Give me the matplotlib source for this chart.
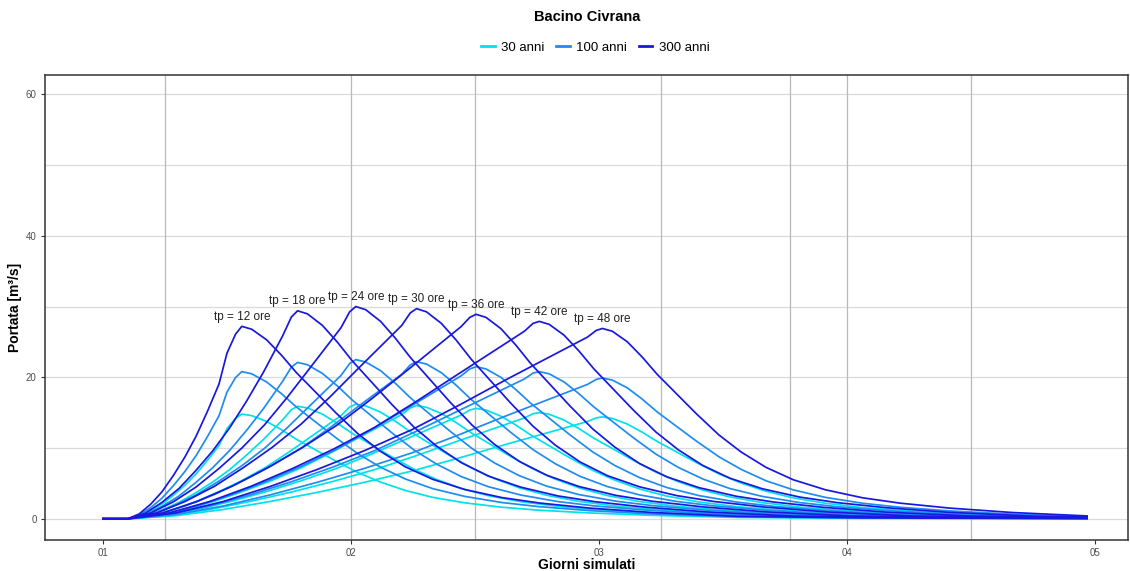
import matplotlib
matplotlib.use("Agg")
import matplotlib.pyplot as plt
from matplotlib.lines import Line2D

plt.rcParams['font.family'] = ['Liberation Sans', 'DejaVu Sans']

# ---- data (days simulated, discharge m3/s) ----
durations = [12, 18, 24, 30, 36, 42, 48]
return_periods = ['30 anni', '100 anni', '300 anni']
colors = ['#00E1EA', '#1E8CF0', '#1818E0']

t12 = [1.0, 1.1, 1.146, 1.192, 1.238, 1.284, 1.33, 1.376, 1.422, 1.468, 1.50, 1.535, 1.56,
       1.60, 1.66, 1.72, 1.78, 1.86, 1.94, 2.03, 2.12, 2.22, 2.33, 2.46, 2.61, 2.76,
       2.96, 3.21, 3.56, 4.06, 4.97]
q12_300 = [0, 0, 0.68, 2.04, 3.81, 6.12, 8.70, 11.70, 15.23, 19.04, 23.39, 26.11, 27.2,
           26.79, 25.30, 23.12, 20.67, 17.82, 14.96, 11.97, 9.52, 7.34, 5.58, 4.13, 2.99,
           2.23, 1.52, 0.90, 0.35, 0.14, 0.05]
q12_100 = [0, 0, 0.52, 1.56, 2.91, 4.68, 6.66, 8.94, 11.65, 14.56, 17.89, 19.97, 20.8,
           20.49, 19.34, 17.68, 15.81, 13.62, 11.44, 9.15, 7.28, 5.62, 4.26, 3.16, 2.29,
           1.71, 1.16, 0.69, 0.27, 0.10, 0.04]
q12_30 = [0, 0, 0.37, 1.11, 2.07, 3.33, 4.74, 6.36, 8.29, 10.36, 12.73, 14.21, 14.8,
          14.58, 13.76, 12.58, 11.25, 9.69, 8.14, 6.51, 5.18, 4.00, 3.03, 2.25, 1.63,
          1.21, 0.83, 0.49, 0.19, 0.07, 0.03]

t18 = [1.0, 1.1, 1.169, 1.237, 1.306, 1.374, 1.443, 1.511, 1.580, 1.648, 1.725, 1.76, 1.785,
       1.825, 1.885, 1.945, 2.005, 2.085, 2.165, 2.255, 2.345, 2.445, 2.555, 2.685, 2.835,
       2.985, 3.185, 3.435, 3.785, 4.285, 4.97]
q18_300 = [0, 0, 0.76, 2.29, 4.26, 6.79, 9.61, 12.85, 16.67, 20.76, 25.87, 28.52, 29.4,
           28.96, 27.34, 24.99, 22.34, 19.26, 16.17, 12.94, 10.29, 7.94, 6.03, 4.47, 3.23,
           2.41, 1.65, 0.97, 0.38, 0.15, 0.06]
q18_100 = [0, 0, 0.57, 1.72, 3.20, 5.11, 7.23, 9.66, 12.53, 15.60, 19.45, 21.44, 22.1,
           21.77, 20.55, 18.79, 16.80, 14.48, 12.16, 9.72, 7.74, 5.97, 4.53, 3.36, 2.43,
           1.81, 1.24, 0.73, 0.29, 0.11, 0.04]
q18_30 = [0, 0, 0.41, 1.24, 2.31, 3.67, 5.20, 6.95, 9.02, 11.23, 13.99, 15.42, 15.9,
          15.66, 14.79, 13.52, 12.08, 10.41, 8.75, 7.00, 5.57, 4.29, 3.26, 2.42, 1.75,
          1.30, 0.89, 0.52, 0.21, 0.08, 0.03]

t24 = [1.0, 1.1, 1.192, 1.284, 1.376, 1.468, 1.56, 1.652, 1.744, 1.836, 1.96, 1.995, 2.02,
       2.06, 2.12, 2.18, 2.24, 2.32, 2.40, 2.49, 2.58, 2.68, 2.79, 2.92, 3.07, 3.22,
       3.42, 3.67, 4.02, 4.52, 4.97]
q24_300 = [0, 0, 0.81, 2.40, 4.50, 7.11, 9.99, 13.29, 17.19, 21.36, 27.0, 29.25, 30.0,
           29.55, 27.90, 25.50, 22.80, 19.65, 16.50, 13.20, 10.50, 8.10, 6.15, 4.56, 3.30,
           2.46, 1.68, 0.99, 0.39, 0.15, 0.09]
q24_100 = [0, 0, 0.61, 1.80, 3.38, 5.33, 7.49, 9.97, 12.89, 16.02, 20.25, 21.94, 22.5,
           22.16, 20.93, 19.13, 17.10, 14.74, 12.38, 9.90, 7.88, 6.08, 4.61, 3.42, 2.48,
           1.85, 1.26, 0.74, 0.29, 0.11, 0.07]
q24_30 = [0, 0, 0.44, 1.30, 2.43, 3.84, 5.39, 7.18, 9.28, 11.53, 14.58, 15.80, 16.2,
          15.96, 15.07, 13.77, 12.31, 10.61, 8.91, 7.13, 5.67, 4.37, 3.32, 2.46, 1.78,
          1.33, 0.91, 0.53, 0.21, 0.08, 0.05]

t30 = [1.0, 1.1, 1.217, 1.333, 1.45, 1.566, 1.683, 1.799, 1.916, 2.032, 2.205, 2.24, 2.265,
       2.305, 2.365, 2.425, 2.485, 2.565, 2.645, 2.735, 2.825, 2.925, 3.035, 3.165, 3.315,
       3.465, 3.665, 3.915, 4.265, 4.765, 4.97]
q30_300 = [0, 0, 0.82, 2.47, 4.60, 7.22, 10.10, 13.37, 17.23, 21.32, 27.32, 29.11, 29.7,
           29.25, 27.62, 25.25, 22.57, 19.45, 16.34, 13.07, 10.40, 8.02, 6.09, 4.51, 3.27,
           2.44, 1.66, 0.98, 0.39, 0.15, 0.12]
q30_100 = [0, 0, 0.61, 1.84, 3.44, 5.39, 7.55, 9.99, 12.88, 15.94, 20.42, 21.76, 22.2,
           21.87, 20.65, 18.87, 16.87, 14.54, 12.21, 9.77, 7.77, 5.99, 4.55, 3.37, 2.44,
           1.82, 1.24, 0.73, 0.29, 0.11, 0.09]
q30_30 = [0, 0, 0.44, 1.33, 2.48, 3.89, 5.44, 7.20, 9.28, 11.49, 14.72, 15.68, 16.0,
          15.76, 14.88, 13.60, 12.16, 10.48, 8.80, 7.04, 5.60, 4.32, 3.28, 2.43, 1.76,
          1.31, 0.90, 0.53, 0.21, 0.08, 0.06]

t36 = [1.0, 1.1, 1.241, 1.381, 1.522, 1.662, 1.803, 1.943, 2.084, 2.224, 2.445, 2.48, 2.505,
       2.545, 2.605, 2.665, 2.725, 2.805, 2.885, 2.975, 3.065, 3.165, 3.275, 3.405, 3.555,
       3.705, 3.905, 4.155, 4.505, 4.97]
q36_300 = [0, 0, 0.81, 2.46, 4.62, 7.17, 10.03, 13.21, 16.96, 20.89, 27.17, 28.47, 28.9,
           28.47, 26.88, 24.57, 21.96, 18.93, 15.90, 12.72, 10.12, 7.80, 5.92, 4.39, 3.18,
           2.37, 1.62, 0.95, 0.38, 0.17]
q36_100 = [0, 0, 0.60, 1.83, 3.44, 5.33, 7.46, 9.83, 12.62, 15.54, 20.21, 21.18, 21.5,
           21.18, 20.00, 18.28, 16.34, 14.08, 11.83, 9.46, 7.53, 5.81, 4.41, 3.27, 2.37,
           1.76, 1.20, 0.71, 0.28, 0.13]
q36_30 = [0, 0, 0.44, 1.33, 2.50, 3.87, 5.41, 7.13, 9.16, 11.28, 14.66, 15.37, 15.6,
          15.37, 14.51, 13.26, 11.86, 10.22, 8.58, 6.86, 5.46, 4.21, 3.20, 2.37, 1.72,
          1.28, 0.87, 0.51, 0.20, 0.09]

t42 = [1.0, 1.1, 1.266, 1.432, 1.598, 1.764, 1.93, 2.096, 2.262, 2.428, 2.70, 2.735, 2.76,
       2.80, 2.86, 2.92, 2.98, 3.06, 3.14, 3.23, 3.32, 3.42, 3.53, 3.66, 3.81,
       3.96, 4.16, 4.41, 4.76, 4.97]
q42_300 = [0, 0, 0.81, 2.46, 4.60, 7.09, 9.85, 12.92, 16.54, 20.34, 26.51, 27.62, 27.9,
           27.48, 25.95, 23.72, 21.20, 18.27, 15.35, 12.28, 9.77, 7.53, 5.72, 4.24, 3.07,
           2.29, 1.56, 0.92, 0.36, 0.25]
q42_100 = [0, 0, 0.60, 1.83, 3.43, 5.28, 7.34, 9.63, 12.33, 15.16, 19.76, 20.59, 20.8,
           20.49, 19.34, 17.68, 15.81, 13.62, 11.44, 9.15, 7.28, 5.62, 4.26, 3.16, 2.29,
           1.71, 1.16, 0.69, 0.27, 0.19]
q42_30 = [0, 0, 0.44, 1.32, 2.48, 3.81, 5.30, 6.95, 8.90, 10.94, 14.25, 14.85, 15.0,
          14.78, 13.95, 12.75, 11.40, 9.83, 8.25, 6.60, 5.25, 4.05, 3.08, 2.28, 1.65,
          1.23, 0.84, 0.50, 0.20, 0.14]

t48 = [1.0, 1.1, 1.292, 1.483, 1.675, 1.866, 2.058, 2.249, 2.441, 2.632, 2.955, 2.99, 3.015,
       3.055, 3.115, 3.175, 3.235, 3.315, 3.395, 3.485, 3.575, 3.675, 3.785, 3.915, 4.065,
       4.215, 4.415, 4.665, 4.97]
q48_300 = [0, 0, 0.81, 2.42, 4.57, 6.99, 9.68, 12.64, 16.14, 19.77, 25.69, 26.63, 26.9,
           26.50, 25.02, 22.87, 20.44, 17.62, 14.80, 11.84, 9.42, 7.26, 5.51, 4.09, 2.96,
           2.21, 1.51, 0.89, 0.40]
q48_100 = [0, 0, 0.60, 1.79, 3.38, 5.17, 7.16, 9.35, 11.94, 14.63, 19.00, 19.70, 19.9,
           19.60, 18.51, 16.92, 15.12, 13.03, 10.95, 8.76, 6.97, 5.37, 4.08, 3.02, 2.19,
           1.63, 1.11, 0.66, 0.30]
q48_30 = [0, 0, 0.43, 1.30, 2.45, 3.74, 5.18, 6.77, 8.64, 10.58, 13.75, 14.26, 14.4,
          14.18, 13.39, 12.24, 10.94, 9.43, 7.92, 6.34, 5.04, 3.89, 2.95, 2.19, 1.58,
          1.18, 0.81, 0.48, 0.22]

times = [t12, t18, t24, t30, t36, t42, t48]
flows = {
    '30 anni': [q12_30, q18_30, q24_30, q30_30, q36_30, q42_30, q48_30],
    '100 anni': [q12_100, q18_100, q24_100, q30_100, q36_100, q42_100, q48_100],
    '300 anni': [q12_300, q18_300, q24_300, q30_300, q36_300, q42_300, q48_300],
}

# label positions = peak of the 300 anni curves
label_x = [1.56, 1.785, 2.02, 2.265, 2.505, 2.76, 3.015]
label_y = [27.2, 29.4, 30.0, 29.7, 28.9, 27.9, 26.9]

x_ticks = [1, 2, 3, 4, 5]
x_ticklabels = ['01', '02', '03', '04', '05']
y_ticks = [0, 20, 40, 60]
h_grid = [0, 10, 20, 30, 40, 50, 60]
v_grid = [1.25, 2.0, 2.5, 3.25, 3.77, 4.0, 4.5]

fig = plt.figure(figsize=(11.3, 5.71), dpi=100)
ax = fig.add_axes([0.0398, 0.0543, 0.958, 0.814])

for y in h_grid:
    ax.axhline(y, color='#dadada', lw=0.9, zorder=0)
for x in v_grid:
    ax.axvline(x, color='#b8b8b8', lw=0.9, zorder=0)

for rp, col in zip(return_periods, colors):
    for t, q in zip(times, flows[rp]):
        ax.plot(t, q, color=col, lw=1.25, solid_joinstyle='round', zorder=2)

for d, lx, ly in zip(durations, label_x, label_y):
    ax.text(lx, ly + 0.5, f'tp = {d} ore', ha='center', va='bottom',
            fontsize=8.5, color='#222222', zorder=3)

ax.set_xlim(0.766, 5.133)
ax.set_ylim(-3.0, 62.7)
ax.set_xticks(x_ticks)
ax.set_xticklabels(x_ticklabels)
ax.set_yticks(y_ticks)
ax.tick_params(axis='both', labelsize=7, colors='#333333', labelcolor='#4d4d4d',
               length=3, width=0.8, pad=3)
for s in ax.spines.values():
    s.set_color('#333333')
    s.set_linewidth(1.1)

ax.set_xlabel('Giorni simulati', fontsize=10, fontweight='bold', labelpad=0)
ax.set_ylabel('Portata [m³/s]', fontsize=10, fontweight='bold', labelpad=3)

fig.text(0.52, 0.97, 'Bacino Civrana', ha='center', va='center',
         fontsize=10.5, fontweight='bold')

handles = [Line2D([0], [0], color=c, lw=2) for c in colors]
fig.legend(handles, return_periods, loc='center', bbox_to_anchor=(0.527, 0.917),
           ncol=3, frameon=False, fontsize=9.5, handlelength=1.0,
           handletextpad=0.5, columnspacing=0.9)

fig.savefig('out.png', dpi=100)
